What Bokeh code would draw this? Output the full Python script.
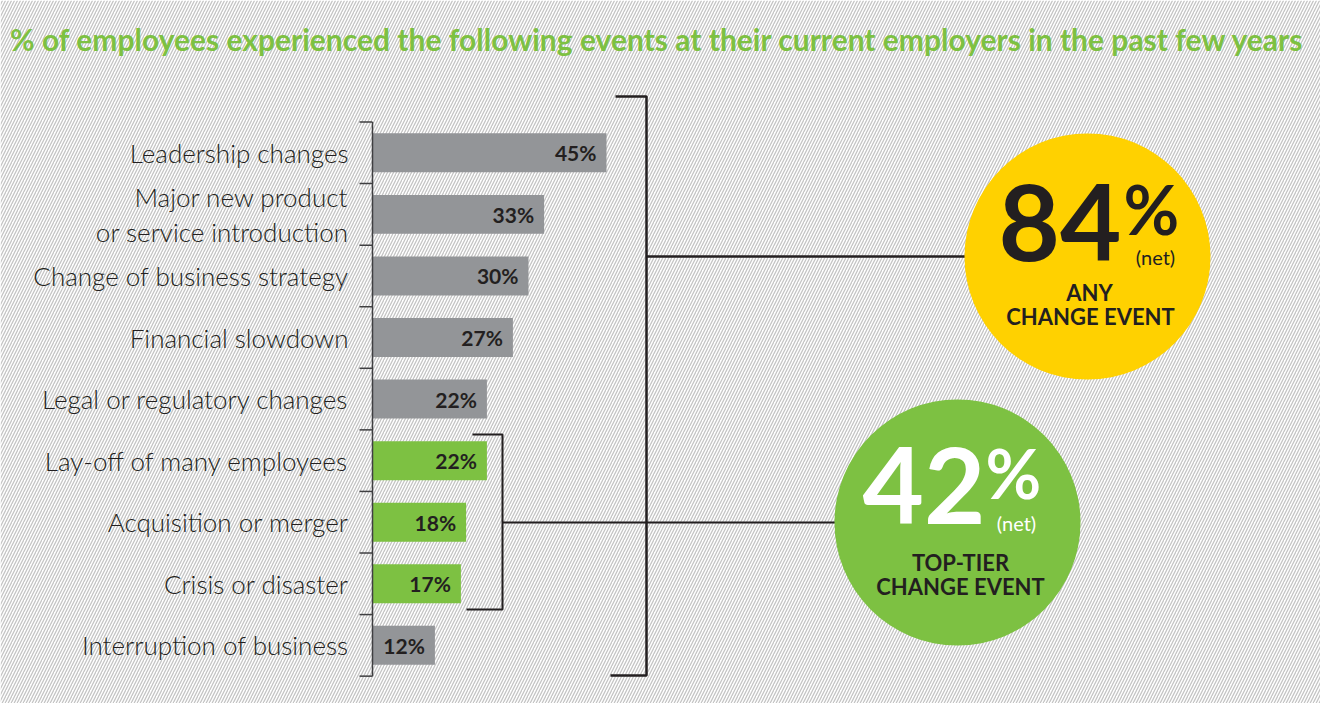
from bokeh.plotting import figure
from bokeh.models import Range1d
from bokeh.core.properties import value
from bokeh.embed import file_html
from bokeh.resources import INLINE

# ---------------- data ----------------
categories = [
    "Leadership changes",
    "Major new product\nor service introduction",
    "Change of business strategy",
    "Financial slowdown",
    "Legal or regulatory changes",
    "Lay-off of many employees",
    "Acquisition or merger",
    "Crisis or disaster",
    "Interruption of business",
]
percent = [45, 33, 30, 27, 22, 22, 18, 17, 12]
top_tier = ["Lay-off of many employees", "Acquisition or merger", "Crisis or disaster"]
any_change_net = 84
top_tier_net = 42
title = "% of employees experienced the following events at their current employers in the past few years"

# ---------------- style ----------------
GRAY = "#939598"
GREEN = "#7dc142"
YELLOW = "#ffd100"
DARK = "#231f20"
FONT = "Lato"
LIGHT_FONT = "Lato Light"

W, H = 1320, 703
PX_PER_PCT = 5.2
AXIS_X = 380           # page x of the bar baseline
ROW0_Y = 160.3         # page y of first bar centre
ROW_STEP = 61.57       # page px between rows

p = figure(width=W, height=H, x_range=Range1d(8, 8 + W), y_range=Range1d(8 + H, 8),
           output_backend="svg", toolbar_location=None, min_border=0,
           x_axis_location=None, y_axis_location=None)
p.grid.visible = False
p.outline_line_color = None
p.background_fill_color = "white"
p.border_fill_color = "white"

p.extra_x_ranges = {"pct": Range1d((8 - AXIS_X) / PX_PER_PCT, (8 + W - AXIS_X) / PX_PER_PCT)}
p.extra_y_ranges = {"rows": Range1d((8 + H - ROW0_Y) / ROW_STEP, (8 - ROW0_Y) / ROW_STEP)}

# hatched background
p.quad(left=[8], right=[8 + W], top=[8], bottom=[8 + H], fill_color="white",
       hatch_pattern="/", hatch_color="#c4c4c4", hatch_scale=6, hatch_weight=1.3,
       line_color=None)

# title
p.text(x=[665], y=[46], text=[title], text_font=value(FONT), text_font_style="bold",
       text_font_size="30px", text_color=GREEN, text_align="center", text_baseline="middle")

n = len(categories)
rows = list(range(n))
colors = [GREEN if c.replace("\n", " ") in top_tier else GRAY for c in categories]

# bars
p.hbar(y=rows, left=0, right=percent, height=0.633, fill_color=colors, line_color=None,
       x_range_name="pct", y_range_name="rows")

# axis line and ticks between categories
p.segment(x0=[0], y0=[-0.5], x1=[0], y1=[n - 0.5], line_color="#3f3f41", line_width=1.5,
          x_range_name="pct", y_range_name="rows")
tick_rows = [r - 0.5 for r in range(n + 1)]
p.segment(x0=[-13 / PX_PER_PCT] * len(tick_rows), y0=tick_rows, x1=[0] * len(tick_rows),
          y1=tick_rows, line_color="#3f3f41", line_width=1.5,
          x_range_name="pct", y_range_name="rows")

# category labels
p.text(x=[0] * n, y=rows, text=categories, x_offset=-24, text_font=value(LIGHT_FONT),
       text_font_size="26px", text_color=DARK, text_align="right", text_baseline="middle",
       text_line_height=1.1, x_range_name="pct", y_range_name="rows")

# value labels
p.text(x=percent, y=rows, text=[f"{v}%" for v in percent], x_offset=-10,
       text_font=value(FONT), text_font_style="bold", text_font_size="21px",
       text_color=DARK, text_align="right", text_baseline="middle",
       x_range_name="pct", y_range_name="rows")

# big bracket (all events)
p.multi_line(xs=[[623, 654, 654, 618], [654, 975]], ys=[[104, 104, 683, 683], [264, 264]],
             line_color=DARK, line_width=2.5)
# small bracket (top-tier events)
p.multi_line(xs=[[480, 510, 510, 474], [510, 845]], ys=[[442, 442, 617, 617], [530, 530]],
             line_color=DARK, line_width=2)

# circles
p.circle(x=[1095], y=[264], radius=123, fill_color=YELLOW, line_color=None)
p.circle(x=[965], y=[530], radius=123, fill_color=GREEN, line_color=None)

# yellow circle text
p.text(x=[1129], y=[230], text=[str(any_change_net)], text_font=value(FONT), text_font_style="bold",
       text_font_size="106px", text_color=DARK, text_align="right", text_baseline="middle")
p.text(x=[1131], y=[216], text=["%"], text_font=value(FONT), text_font_style="bold",
       text_font_size="68px", text_color=DARK, text_align="left", text_baseline="middle")
p.text(x=[1163], y=[264], text=["(net)"], text_font=value(FONT),
       text_font_size="20px", text_color=DARK, text_align="center", text_baseline="middle")
p.text(x=[1097, 1098], y=[300, 324], text=["ANY", "CHANGE EVENT"], text_font=value(FONT),
       text_font_style="bold", text_font_size="22px", text_color=DARK, text_align="center",
       text_baseline="middle")

# green circle text
p.text(x=[993], y=[493], text=[str(top_tier_net)], text_font=value(FONT), text_font_style="bold",
       text_font_size="106px", text_color="white", text_align="right", text_baseline="middle")
p.text(x=[993], y=[480], text=["%"], text_font=value(FONT), text_font_style="bold",
       text_font_size="68px", text_color="white", text_align="left", text_baseline="middle")
p.text(x=[1024], y=[530], text=["(net)"], text_font=value(FONT),
       text_font_size="20px", text_color="white", text_align="center", text_baseline="middle")
p.text(x=[968, 968], y=[570, 594], text=["TOP-TIER", "CHANGE EVENT"], text_font=value(FONT),
       text_font_style="bold", text_font_size="22px", text_color=DARK, text_align="center",
       text_baseline="middle")

open("out.html", "w").write(file_html(p, INLINE))
